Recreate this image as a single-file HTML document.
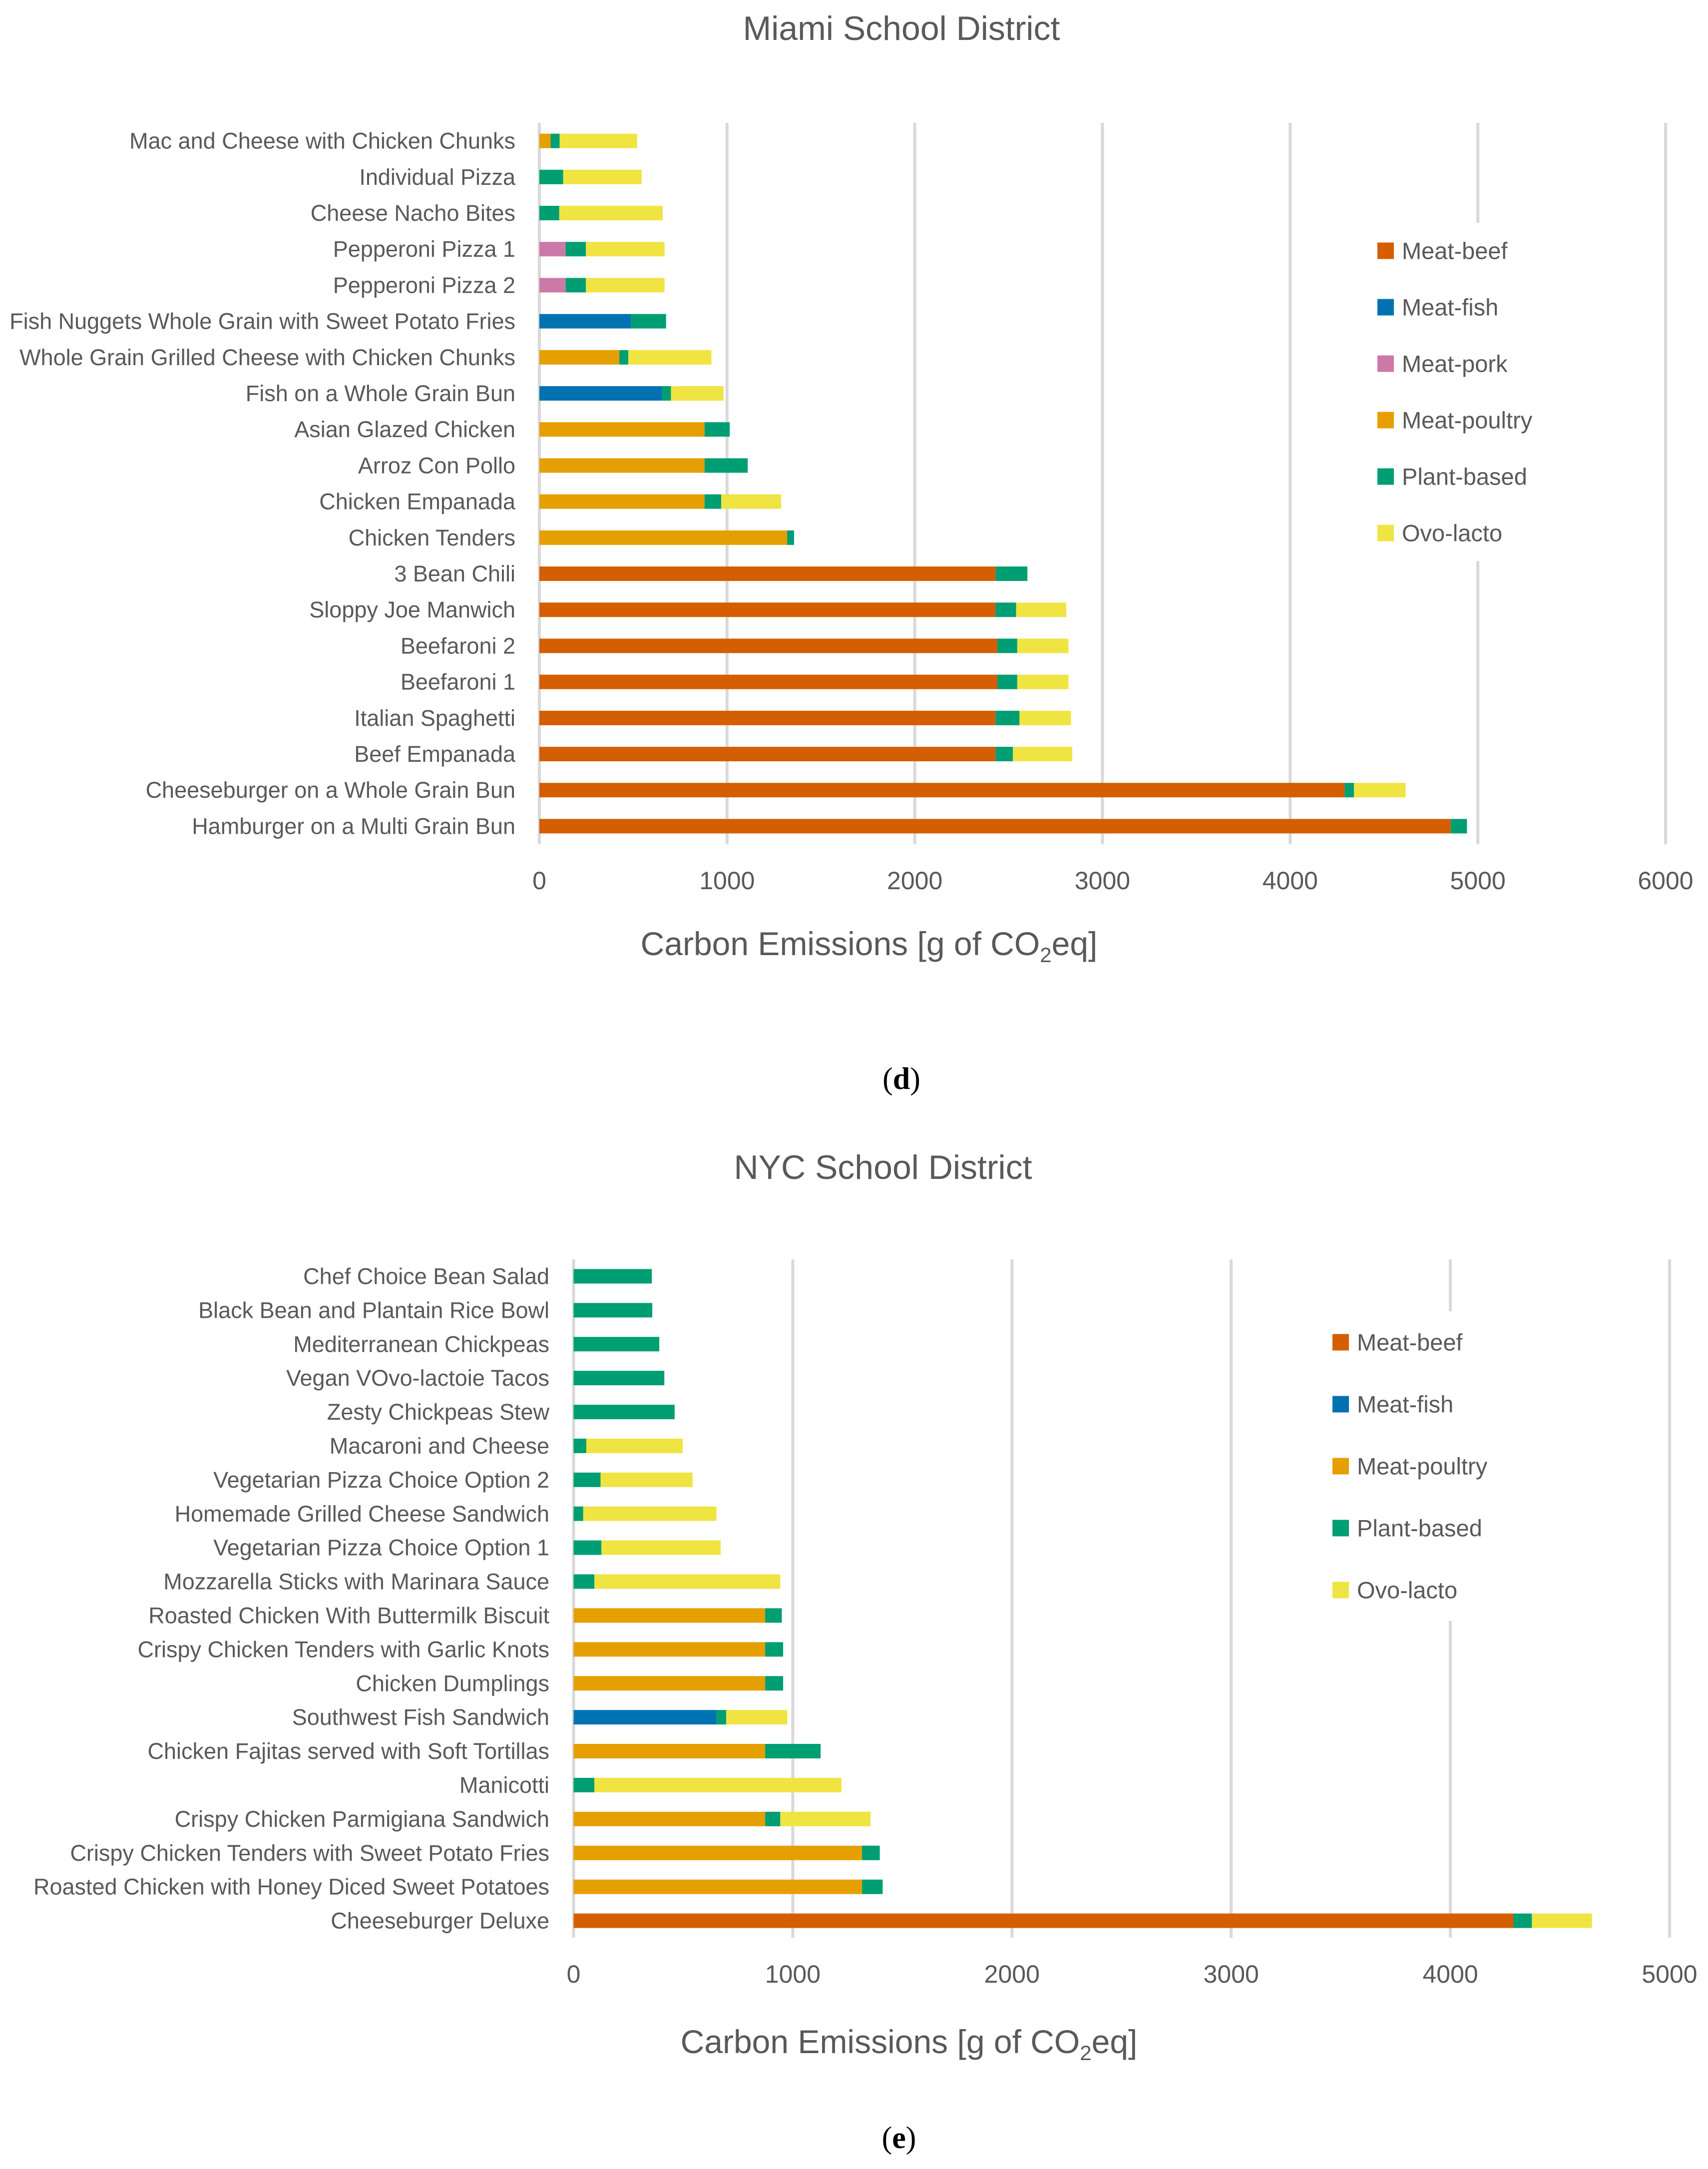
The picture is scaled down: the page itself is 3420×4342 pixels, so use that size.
<!DOCTYPE html>
<html><head><meta charset="utf-8"><title>School District Carbon Emissions</title>
<style>html,body{margin:0;padding:0;background:#fff}svg{display:block}</style></head>
<body>
<svg id="c" width="3420" height="4342" viewBox="0 0 3420 4342" xmlns="http://www.w3.org/2000/svg" font-family="'Liberation Sans', sans-serif"></svg>
<script>
const seriesNames = ["Meat-beef","Meat-fish","Meat-pork","Meat-poultry","Plant-based","Ovo-lacto"];
const seriesColors = ["#d55e00","#0072b2","#cc79a7","#e69f00","#009e73","#f0e442"];

const miamiCategories = ["Mac and Cheese with Chicken Chunks","Individual Pizza","Cheese Nacho Bites","Pepperoni Pizza 1","Pepperoni Pizza 2","Fish Nuggets Whole Grain with Sweet Potato Fries","Whole Grain Grilled Cheese with Chicken Chunks","Fish on a Whole Grain Bun","Asian Glazed Chicken","Arroz Con Pollo","Chicken Empanada","Chicken Tenders","3 Bean Chili","Sloppy Joe Manwich","Beefaroni 2","Beefaroni 1","Italian Spaghetti","Beef Empanada","Cheeseburger on a Whole Grain Bun","Hamburger on a Multi Grain Bun"];
const miamiBeef    = [0,0,0,0,0,0,0,0,0,0,0,0,2430,2430,2440,2440,2430,2430,4290,4855];
const miamiFish    = [0,0,0,0,0,489,0,653,0,0,0,0,0,0,0,0,0,0,0,0];
const miamiPork    = [0,0,0,140,140,0,0,0,0,0,0,0,0,0,0,0,0,0,0,0];
const miamiPoultry = [60,0,0,0,0,0,426,0,880,880,880,1320,0,0,0,0,0,0,0,0];
const miamiPlant   = [48,127,106,108,108,186,48,48,134,230,89,37,170,110,106,106,128,93,50,87];
const miamiOvo     = [413,418,551,419,419,0,443,280,0,0,319,0,0,267,273,273,274,316,275,0];
const miamiTicks   = [0,1000,2000,3000,4000,5000,6000];

const nycCategories = ["Chef Choice Bean Salad","Black Bean and Plantain Rice Bowl","Mediterranean Chickpeas","Vegan VOvo-lactoie Tacos","Zesty Chickpeas Stew","Macaroni and Cheese","Vegetarian Pizza Choice Option 2","Homemade Grilled Cheese Sandwich","Vegetarian Pizza Choice Option 1","Mozzarella Sticks with Marinara Sauce","Roasted Chicken With Buttermilk Biscuit","Crispy Chicken Tenders with Garlic Knots","Chicken Dumplings","Southwest Fish Sandwich","Chicken Fajitas served with Soft Tortillas","Manicotti","Crispy Chicken Parmigiana Sandwich","Crispy Chicken Tenders with Sweet Potato Fries","Roasted Chicken with Honey Diced Sweet Potatoes","Cheeseburger Deluxe"];
const nycBeef    = [0,0,0,0,0,0,0,0,0,0,0,0,0,0,0,0,0,0,0,4288];
const nycFish    = [0,0,0,0,0,0,0,0,0,0,0,0,0,652,0,0,0,0,0,0];
const nycPoultry = [0,0,0,0,0,0,0,0,0,0,874,874,874,0,874,0,874,1316,1316,0];
const nycPlant   = [357,359,391,414,461,58,123,44,127,95,76,82,82,44,253,95,69,81,94,84];
const nycOvo     = [0,0,0,0,0,440,420,608,544,848,0,0,0,279,0,1127,412,0,0,274];
const nycTicks   = [0,1000,2000,3000,4000,5000];

const NS="http://www.w3.org/2000/svg";
const svg=document.getElementById('c');
function mk(tag,attrs,parent){const e=document.createElementNS(NS,tag);for(const k in attrs)e.setAttribute(k,attrs[k]);(parent||svg).appendChild(e);return e;}
const TXT="#595959";

function drawChart(o){
  const g=mk('g',{});
  
  
  const xMax=o.ticks[o.ticks.length-1];
  const xs=v=>o.x0+(o.x1-o.x0)*v/xMax;
  const band=(o.yBot-o.yTop)/o.cats.length;
  const yc=i=>o.yTop+band*(i+0.5);
  o.ticks.forEach(t=>{
    const l=mk('line',{x1:xs(t),x2:xs(t),y1:o.yTop,y2:o.yBot,stroke:'#d9d9d9','stroke-width':6},g);
    
    
    const tl=mk('text',{x:xs(t),y:o.tickY,'font-size':50,fill:TXT,'text-anchor':'middle','dominant-baseline':'central'},g);
    tl.textContent=String(t);
    
    
  });
  const lb=mk('rect',{x:o.legX-20,y:o.legTop,width:480,height:o.legBot-o.legTop,fill:'#fff'},g);
  
  
  o.cats.forEach((c,i)=>{
    let acc=0;
    o.series.forEach(s=>{
      const v=s.vals[i];
      if(v>0){
        const r=mk('rect',{x:xs(acc),y:yc(i)-14.5,width:xs(acc+v)-xs(acc),height:29,fill:seriesColors[s.idx]},g);
        
        
      }
      acc+=v;
    });
    const t=mk('text',{x:o.labelX,y:yc(i),'font-size':45,fill:TXT,'text-anchor':'end','dominant-baseline':'central'},g);
    t.textContent=c;
    
    
  });
  o.series.forEach((s,k)=>{
    const y=o.legY0+k*o.legStep;
    const sq=mk('rect',{x:o.legX,y:y-16.5,width:33,height:33,fill:seriesColors[s.idx]},g);
    
    
    const lt=mk('text',{x:o.legX+49,y:y,'font-size':47,fill:TXT,'dominant-baseline':'central'},g);
    lt.textContent=seriesNames[s.idx];
    
    
  });
  const tt=mk('text',{x:o.titleX,y:o.titleY,'font-size':68,fill:TXT,'text-anchor':'middle'},g);
  tt.textContent=o.title;
  
  
  const at=mk('text',{x:o.axX,y:o.axY,'font-size':66,fill:TXT,'text-anchor':'middle'},g);
  
  
  const a1=mk('tspan',{},at);a1.textContent='Carbon Emissions [g of CO';
  const a2=mk('tspan',{'font-size':42,dy:14},at);a2.textContent='2';
  const a3=mk('tspan',{dy:-14},at);a3.textContent='eq]';
  const pl=mk('text',{x:o.panelX,y:o.panelY,'font-size':62,fill:'#000','text-anchor':'middle','font-family':"'Liberation Serif', serif"},g);
  
  
  const p1=mk('tspan',{},pl);p1.textContent='(';
  const p2=mk('tspan',{'font-weight':'bold'},pl);p2.textContent=o.panel;
  const p3=mk('tspan',{},pl);p3.textContent=')';
}

drawChart({id:'miami',cats:miamiCategories,ticks:miamiTicks,x0:1080,x1:3335,yTop:246,yBot:1690,tickY:1763,labelX:1032,
  series:[{idx:0,vals:miamiBeef},{idx:1,vals:miamiFish},{idx:2,vals:miamiPork},{idx:3,vals:miamiPoultry},{idx:4,vals:miamiPlant},{idx:5,vals:miamiOvo}],
  legX:2758,legY0:502,legStep:113,legTop:446,legBot:1123,
  title:'Miami School District',titleX:1805,titleY:80,axX:1740,axY:1912,panel:'d',panelX:1805,panelY:2180});
drawChart({id:'nyc',cats:nycCategories,ticks:nycTicks,x0:1148.5,x1:3343,yTop:2521,yBot:3879,tickY:3952,labelX:1100,
  series:[{idx:0,vals:nycBeef},{idx:1,vals:nycFish},{idx:3,vals:nycPoultry},{idx:4,vals:nycPlant},{idx:5,vals:nycOvo}],
  legX:2668,legY0:2687,legStep:124,legTop:2625,legBot:3245,
  title:'NYC School District',titleX:1768,titleY:2360,axX:1820,axY:4110,panel:'e',panelX:1800,panelY:4300});
</script>
</body></html>
